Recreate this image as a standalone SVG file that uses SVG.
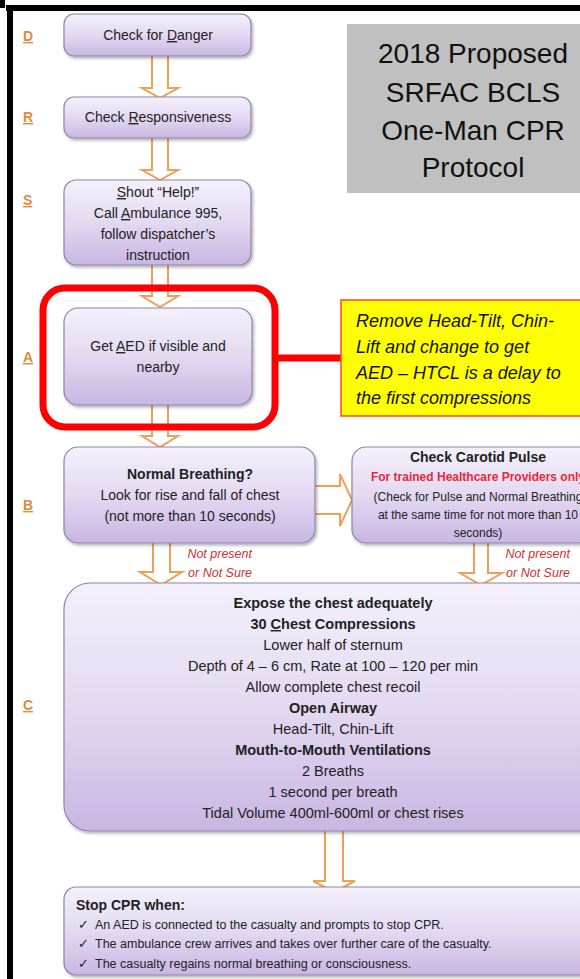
<svg xmlns="http://www.w3.org/2000/svg" width="580" height="979" viewBox="0 0 580 979">
<defs>
<linearGradient id="pg" x1="0" y1="0" x2="0" y2="1">
<stop offset="0" stop-color="#f4f0fb"/>
<stop offset="0.5" stop-color="#e3d9f1"/>
<stop offset="1" stop-color="#c8b6e2"/>
</linearGradient>
<filter id="sh" x="-10%" y="-10%" width="130%" height="140%">
<feDropShadow dx="1.5" dy="2" stdDeviation="1.5" flood-color="#000" flood-opacity="0.3"/>
</filter>
</defs>
<style>
.box{fill:url(#pg);stroke:#9184a8;stroke-width:1.2;filter:url(#sh)}
.arr{fill:#fff;stroke:#f0a055;stroke-width:2;stroke-linejoin:miter}
.t{font-family:"Liberation Sans",Arial,sans-serif;font-size:14px;fill:#222;text-anchor:middle}
.c{font-size:14.5px}
.b{font-weight:bold}
.lab{font-family:"Liberation Sans",Arial,sans-serif;font-size:14px;font-weight:bold;fill:#e08a3c;text-decoration:underline}
.np{font-family:"Liberation Sans",Arial,sans-serif;font-size:12.5px;font-style:italic;fill:#d03030;text-anchor:end}
.title{font-family:"Liberation Sans",Arial,sans-serif;font-size:28px;fill:#111;text-anchor:middle}
.yel{font-family:"Liberation Sans",Arial,sans-serif;font-size:18px;font-style:italic;fill:#111}
.s{font-family:"Liberation Sans",Arial,sans-serif;font-size:12.5px;fill:#222}
</style>
<rect width="580" height="979" fill="#fff"/>
<g id="frame">
<rect x="0" y="0" width="5" height="8" fill="#000"/>
<rect x="6" y="5" width="574" height="6" fill="#000"/>
<rect x="7" y="5" width="6" height="974" fill="#000"/>
</g>
<g id="letters">
<text class="lab" x="23" y="41">D</text>
<text class="lab" x="23" y="122">R</text>
<text class="lab" x="23" y="205">S</text>
<text class="lab" x="23" y="362">A</text>
<text class="lab" x="23" y="510">B</text>
<text class="lab" x="23" y="710">C</text>
</g>
<g id="title">
<rect x="347" y="24" width="233" height="169" fill="#c0c0c0"/>
<text class="title" x="473" y="63">2018 Proposed</text>
<text class="title" x="473" y="102">SRFAC BCLS</text>
<text class="title" x="473" y="140">One-Man CPR</text>
<text class="title" x="473" y="177">Protocol</text>
</g>
<g id="connectors">
<path class="arr" d="M152,56 V88 H142 L160,98 L178,88 H168 V56"/>
<path class="arr" d="M152,138 V170 H142 L160,180 L178,170 H168 V138"/>
<path class="arr" d="M152,265 V296 H142 L160,307 L178,296 H168 V265"/>
<path class="arr" d="M152,405 V436 H142 L160,447 L178,436 H168 V405"/>
<path class="arr" d="M153,543 V572 H140 L161,585 L182,572 H170 V543"/>
<path class="arr" d="M474,543 V573 H460 L481,585 L502,573 H488 V543"/>
<path class="arr" d="M325,831 V881 H313 L334,892 L355,881 H343 V831"/>
<path class="arr" d="M315,486 H340 V474 L352,500 L340,526 V514 H315"/>
<path d="M275,358 H341" stroke="#ff0000" stroke-width="7"/>
</g>
<g id="nodeD">
<rect class="box" x="64" y="14" width="187" height="42" rx="10"/>
<text class="t" x="158" y="40">Check for <tspan text-decoration="underline">D</tspan>anger</text>
</g>
<g id="nodeR">
<rect class="box" x="64" y="97" width="187" height="41" rx="10"/>
<text class="t" x="158" y="122">Check <tspan text-decoration="underline">R</tspan>esponsiveness</text>
</g>
<g id="nodeS">
<rect class="box" x="64" y="180" width="187" height="85" rx="12"/>
<text class="t" x="158" y="197"><tspan text-decoration="underline">S</tspan>hout “Help!”</text>
<text class="t" x="158" y="218">Call <tspan text-decoration="underline">A</tspan>mbulance 995,</text>
<text class="t" x="158" y="239">follow dispatcher’s</text>
<text class="t" x="158" y="260">instruction</text>
</g>
<g id="nodeA">
<rect class="box" x="64" y="308" width="188" height="97" rx="14"/>
<text class="t" x="158" y="351">Get <tspan text-decoration="underline">A</tspan>ED if visible and</text>
<text class="t" x="158" y="372">nearby</text>
<rect x="43" y="288" width="232" height="139" rx="22" fill="none" stroke="#ff0000" stroke-width="7"/>
</g>
<g id="note">
<rect x="341" y="300" width="250" height="116" fill="#ffff00" stroke="#ff4a20" stroke-width="1.5"/>
<text class="yel" x="356" y="327">Remove Head-Tilt, Chin-</text>
<text class="yel" x="356" y="353">Lift and change to get</text>
<text class="yel" x="356" y="379">AED – HTCL is a delay to</text>
<text class="yel" x="356" y="404">the first compressions</text>
</g>
<g id="nodeB">
<rect class="box" x="64" y="447" width="251" height="96" rx="14"/>
<text class="t b" x="190" y="479">Normal Breathing?</text>
<text class="t" x="190" y="500">Look for rise and fall of chest</text>
<text class="t" x="190" y="521">(not more than 10 seconds)</text>
</g>
<g id="nodeCarotid">
<rect class="box" x="352" y="447" width="250" height="96" rx="14"/>
<text class="t b" x="478" y="462">Check Carotid Pulse</text>
<text class="t b" x="478" y="481" style="fill:#e8283c;font-size:12px">For trained Healthcare Providers only</text>
<text class="t" x="478" y="501" style="font-size:12px">(Check for Pulse and Normal Breathing</text>
<text class="t" x="478" y="519" style="font-size:12px">at the same time for not more than 10</text>
<text class="t" x="478" y="537" style="font-size:12px">seconds)</text>
</g>
<g id="labels">
<text class="np" x="252" y="558">Not present</text>
<text class="np" x="252" y="577">or Not Sure</text>
<text class="np" x="570" y="558">Not present</text>
<text class="np" x="570" y="577">or Not Sure</text>
</g>
<g id="nodeC">
<rect class="box" x="64" y="583" width="540" height="248" rx="26"/>
<text class="t c b" x="333" y="608">Expose the chest adequately</text>
<text class="t c b" x="333" y="629">30 <tspan text-decoration="underline">C</tspan>hest Compressions</text>
<text class="t c" x="333" y="650">Lower half of sternum</text>
<text class="t c" x="333" y="671">Depth of 4 – 6 cm, Rate at 100 – 120 per min</text>
<text class="t c" x="333" y="692">Allow complete chest recoil</text>
<text class="t c b" x="333" y="713">Open Airway</text>
<text class="t c" x="333" y="734">Head-Tilt, Chin-Lift</text>
<text class="t c b" x="333" y="755">Mouth-to-Mouth Ventilations</text>
<text class="t c" x="333" y="776">2 Breaths</text>
<text class="t c" x="333" y="797">1 second per breath</text>
<text class="t c" x="333" y="818">Tidal Volume 400ml-600ml or chest rises</text>
</g>
<g id="nodeStop">
<rect class="box" x="64" y="887" width="540" height="88" rx="12"/>
<text class="t b" x="76" y="910" style="text-anchor:start">Stop CPR when:</text>
<text class="s" x="78" y="929">✓</text><text class="s" x="95" y="929">An AED is connected to the casualty and prompts to stop CPR.</text>
<text class="s" x="78" y="948">✓</text><text class="s" x="95" y="948">The ambulance crew arrives and takes over further care of the casualty.</text>
<text class="s" x="78" y="968">✓</text><text class="s" x="95" y="968">The casualty regains normal breathing or consciousness.</text>
</g>
</svg>
